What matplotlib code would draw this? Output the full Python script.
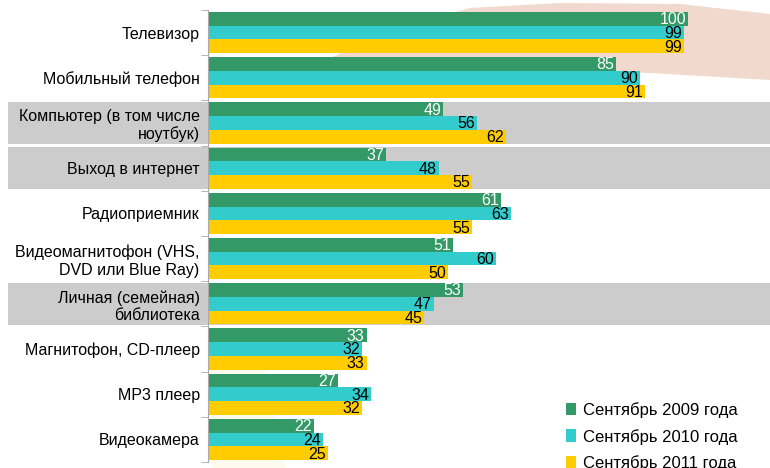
import numpy as np
import matplotlib
matplotlib.use("Agg")
import matplotlib.pyplot as plt
from matplotlib.patches import Rectangle, Polygon, Patch
from matplotlib.transforms import blended_transform_factory

plt.rcParams['font.family'] = ['Liberation Sans Narrow', 'Liberation Sans', 'DejaVu Sans']

# ---------------------------------------------------------------
# data
categories = ["Телевизор", "Мобильный телефон", "Компьютер (в том числе\nноутбук)",
              "Выход в интернет", "Радиоприемник", "Видеомагнитофон (VHS,\nDVD или Blue Ray)",
              "Личная (семейная)\nбиблиотека", "Магнитофон, CD-плеер", "MP3 плеер", "Видеокамера"]
sep_2009 = [100, 85, 49, 37, 61, 51, 53, 33, 27, 22]
sep_2010 = [99, 90, 56, 48, 63, 60, 47, 32, 34, 24]
sep_2011 = [99, 91, 62, 55, 55, 50, 45, 33, 32, 25]
series_names = ["Сентябрь 2009 года", "Сентябрь 2010 года", "Сентябрь 2011 года"]
shaded = [2, 3, 6]

colors = ["#339966", "#33CCCC", "#FFCC00"]
text_colors = ["white", "black", "black"]

fig = plt.figure(figsize=(7.7, 4.68), dpi=100)
ax = fig.add_axes([208/770, 6/468, 1 - 208/770, 452/468])
ax.patch.set_visible(False)

# decorative background shapes (peach arc top right, faint yellow lower left)
arc = Polygon([(470/770, 1 - 8/468), (560/770, 1 - 3/468), (680/770, 1 - 4/468), (770/770, 1 - 14/468),
               (770/770, 1 - 80/468), (650/770, 1 - 73/468), (480/770, 1 - 66/468), (330/770, 1 - 58/468),
               (400/770, 1 - 28/468)],
              closed=True, transform=ax.transAxes.inverted() + ax.transAxes, facecolor="#F1D9CD",
              edgecolor="none", zorder=-2)
arc.set_transform(fig.transFigure)
ax.add_artist(arc)
arc.set_clip_on(False)
glow = Polygon([(212/770, 1 - 330/468), (260/770, 1 - 345/468), (285/770, 1 - 468/468), (212/770, 0)],
               closed=True, transform=fig.transFigure, facecolor="#FEFAEE", edgecolor="none",
               zorder=-2, clip_on=False)
ax.add_artist(glow)

# gray bands
trans = blended_transform_factory(fig.transFigure, ax.transData)
for i in shaded:
    ax.add_patch(Rectangle((8/770, i - 0.465), 1 - 8/770, 0.93, transform=trans,
                           facecolor="#CCCCCC", edgecolor="none", clip_on=False, zorder=-1))

y = np.arange(len(categories))
h = 0.305
for k, vals in enumerate([sep_2009, sep_2010, sep_2011]):
    pos = y + (k - 1) * h
    ax.barh(pos, vals, height=h, color=colors[k], zorder=2, label=series_names[k])
    for p, v in zip(pos, vals):
        ax.text(v - 0.4, p + 0.02, str(v), ha="right", va="center", fontsize=11.5,
                color=text_colors[k], zorder=3)

ax.set_xlim(0, 117)
ax.set_ylim(len(categories) - 0.5, -0.5)
ax.set_xticks([])
ax.set_yticks(y)
ax.set_yticklabels(categories, fontsize=11.5, linespacing=1.2)
ax.tick_params(axis="y", which="major", length=0, pad=6)
ax.set_yticks(np.arange(len(categories) + 1) - 0.5, minor=True)
ax.tick_params(axis="y", which="minor", length=5, color="#AAAAAA")
for s in ["top", "right", "bottom"]:
    ax.spines[s].set_visible(False)
ax.spines["left"].set_color("#AAAAAA")

handles = [Patch(facecolor=c, edgecolor="none") for c in colors]
fig.legend(handles, series_names, loc="upper left", bbox_to_anchor=(566/770, 1 - 402/468),
           frameon=False, fontsize=12, handlelength=0.6, handleheight=0.8, handletextpad=0.4,
           labelspacing=0.65, borderpad=0, borderaxespad=0)

fig.savefig("out.png", dpi=100)
